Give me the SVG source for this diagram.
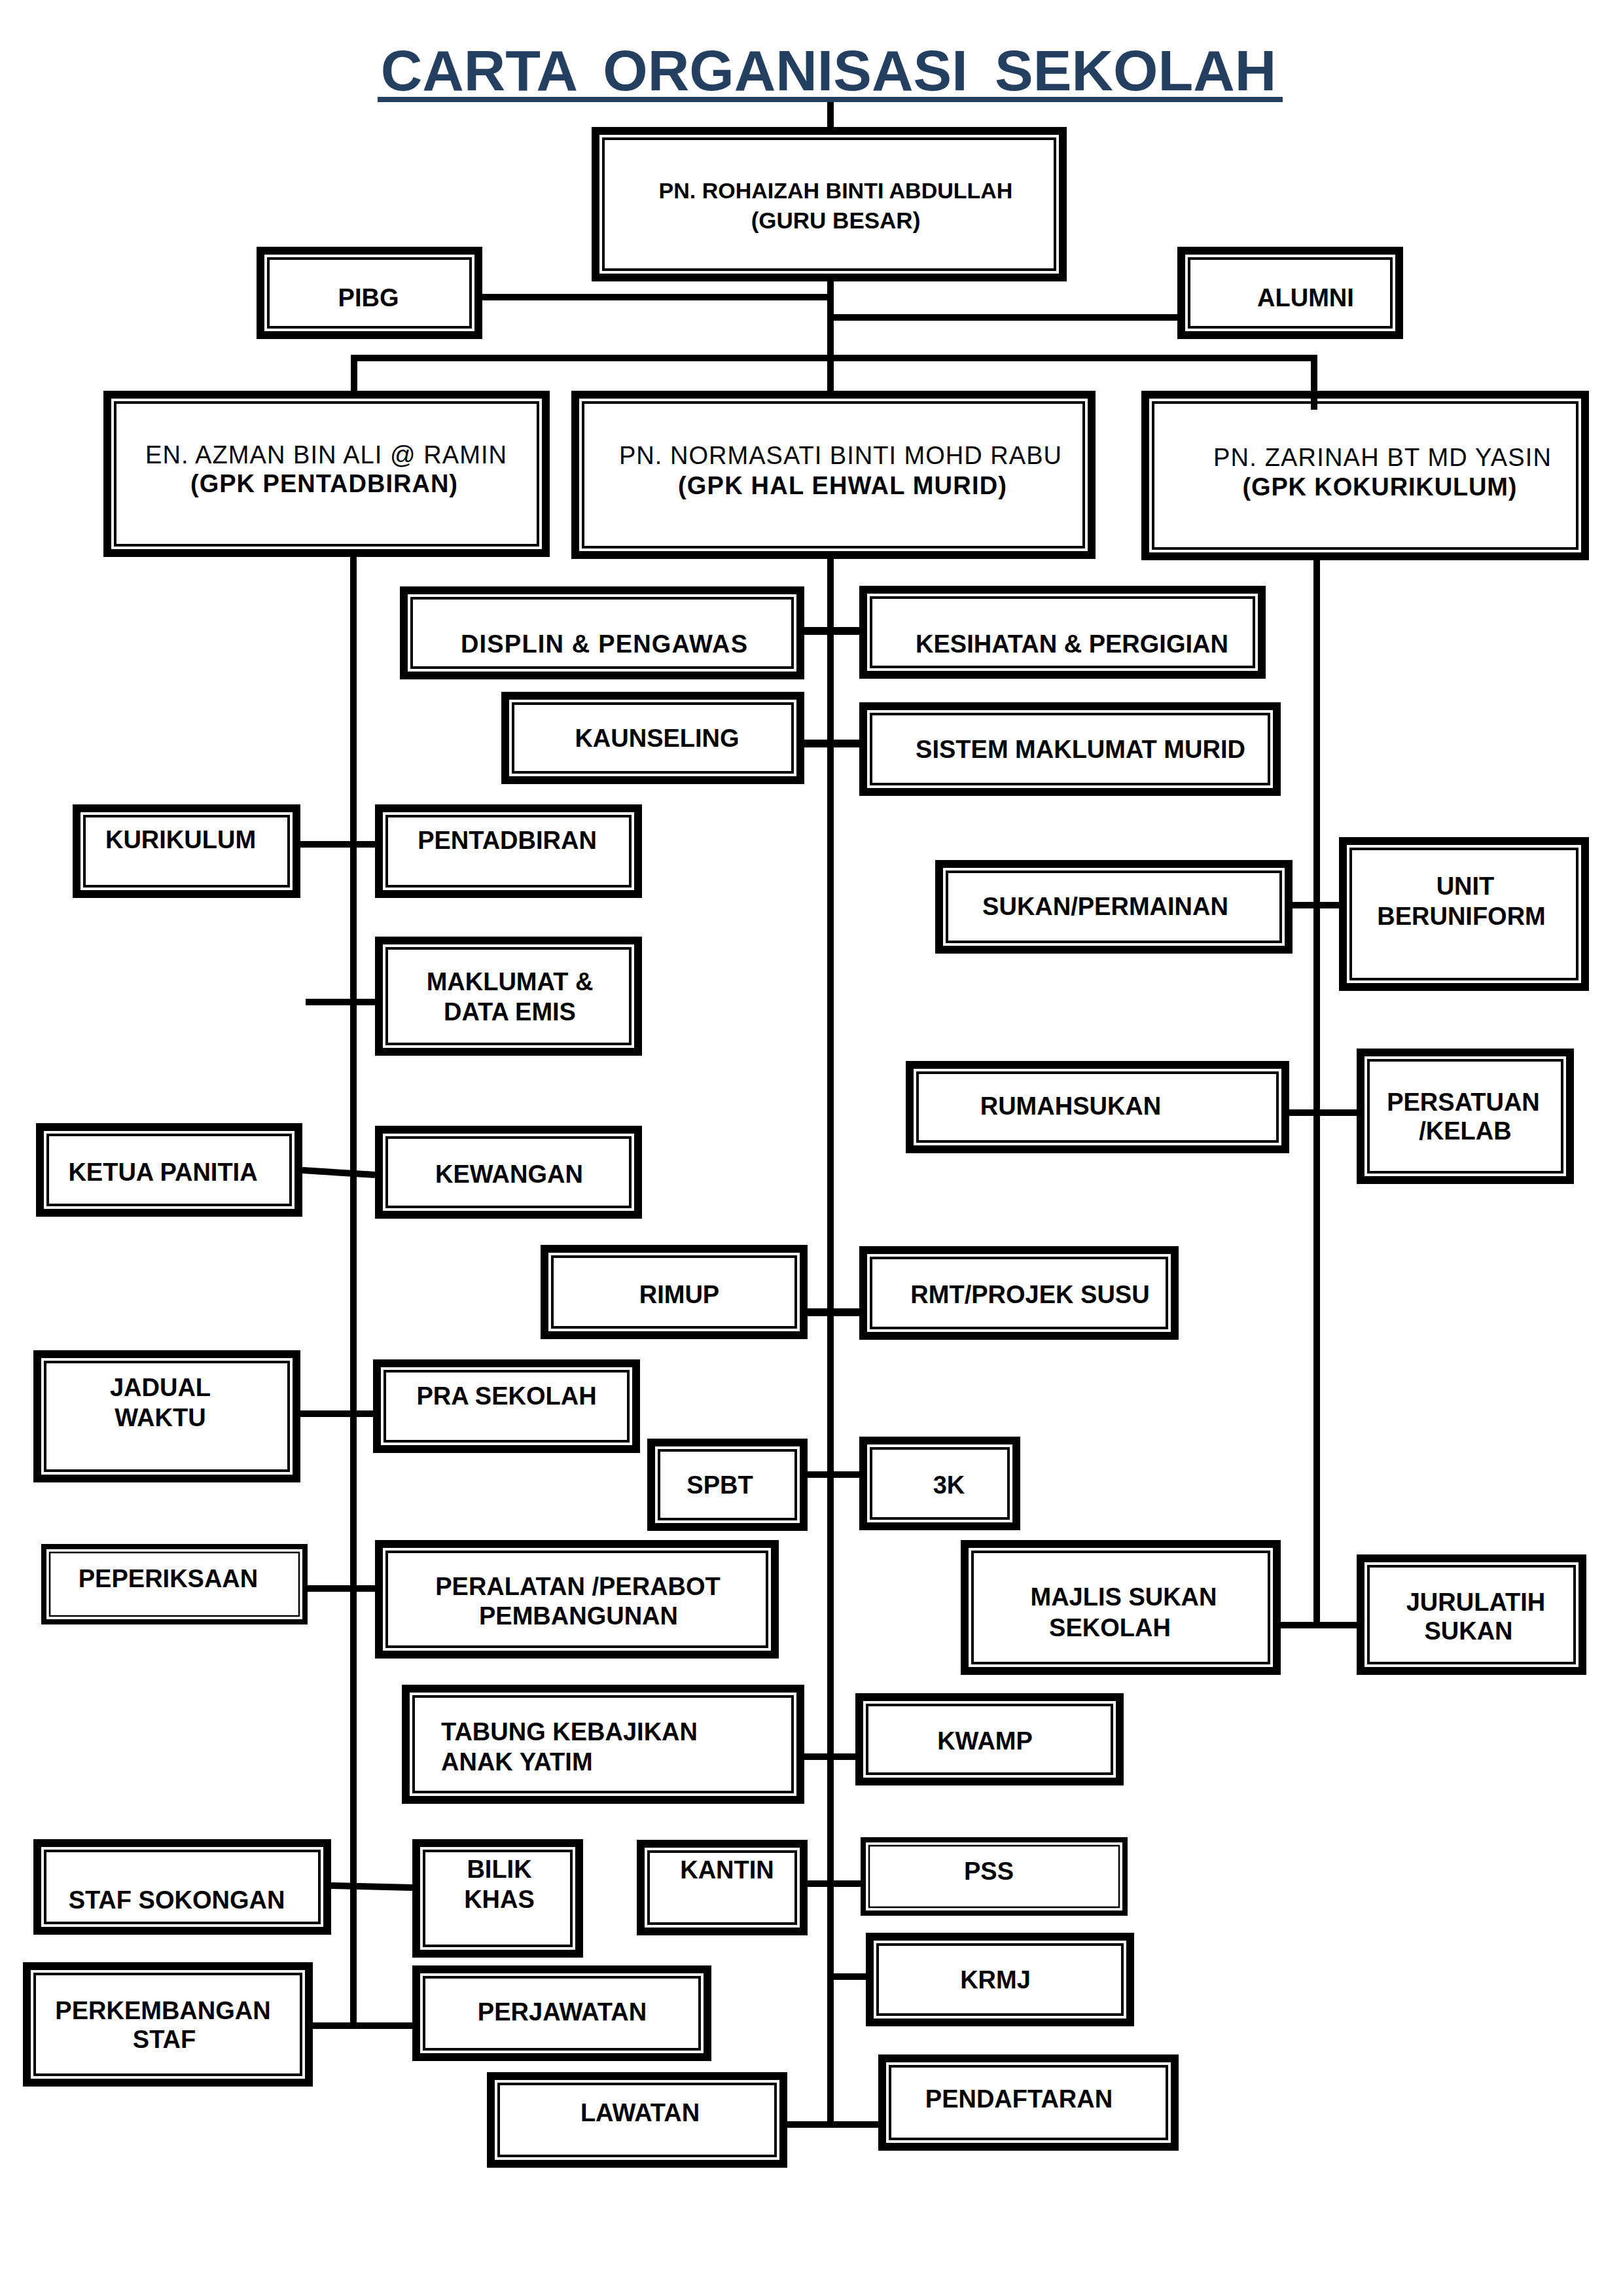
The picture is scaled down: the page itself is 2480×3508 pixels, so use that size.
<svg xmlns="http://www.w3.org/2000/svg" width="2480" height="3508" viewBox="0 0 2480 3508">
<style>
.ob{fill:#fff;stroke:#000;stroke-width:12}
.ib{fill:none;stroke:#000;stroke-width:4}
.obt{fill:#fff;stroke:#000;stroke-width:8}
.ibt{fill:none;stroke:#000;stroke-width:2.5}
.t{font-family:"Liberation Sans",Arial,sans-serif;font-weight:bold;font-size:38px;text-anchor:middle;fill:#000}
.r{font-weight:normal}
.l{text-anchor:start}
.c{stroke:#000;stroke-width:10;fill:none}
.c2{stroke:#000;stroke-width:12;fill:none}
</style>
<rect width="2480" height="3508" fill="#fff"/>
<g id="title">
<text x="1266" y="138" style="font-family:'Liberation Sans',Arial,sans-serif;font-weight:bold;font-size:88px;word-spacing:17px" fill="#243F60" text-anchor="middle">CARTA ORGANISASI SEKOLAH</text>
<rect x="577" y="148" width="1383" height="8" fill="#243F60"/>
</g>
<g id="nodes">
<g id="guru-besar"><rect class="ob" x="910" y="200" width="714" height="224"/><rect class="ib" x="922" y="212" width="690" height="200"/><text class="t" style="font-size:34px" x="1277" y="303">PN. ROHAIZAH BINTI ABDULLAH</text><text class="t" style="font-size:35px" x="1277" y="349">(GURU BESAR)</text></g>
<g id="pibg"><rect class="ob" x="398" y="383" width="333" height="129"/><rect class="ib" x="410" y="395" width="309" height="105"/><text class="t" x="563" y="468">PIBG</text></g>
<g id="alumni"><rect class="ob" x="1805" y="383" width="333" height="129"/><rect class="ib" x="1817" y="395" width="309" height="105"/><text class="t" x="1995" y="468">ALUMNI</text></g>
<g id="gpk-pentadbiran"><rect class="ob" x="164" y="603" width="670" height="242"/><rect class="ib" x="176" y="615" width="646" height="218"/><text class="t r" x="498" y="708" textLength="552" lengthAdjust="spacing">EN. AZMAN BIN ALI @ RAMIN</text><text class="t" x="495" y="752" textLength="408" lengthAdjust="spacing">(GPK PENTADBIRAN)</text></g>
<g id="gpk-hem"><rect class="ob" x="879" y="603" width="789" height="245"/><rect class="ib" x="891" y="615" width="765" height="221"/><text class="t r" x="1284" y="709" textLength="676" lengthAdjust="spacing">PN. NORMASATI BINTI MOHD RABU</text><text class="t" x="1287" y="755" textLength="502" lengthAdjust="spacing">(GPK HAL EHWAL MURID)</text></g>
<g id="gpk-koku"><rect class="ob" x="1750" y="603" width="672" height="247"/><rect class="ib" x="1762" y="615" width="648" height="223"/><text class="t r" x="2112" y="712" textLength="516" lengthAdjust="spacing">PN. ZARINAH BT MD YASIN</text><text class="t" x="2108" y="757" textLength="419" lengthAdjust="spacing">(GPK KOKURIKULUM)</text></g>
<g id="displin"><rect class="ob" x="617" y="902" width="606" height="130"/><rect class="ib" x="629" y="914" width="582" height="106"/><text class="t" x="923" y="997" textLength="438" lengthAdjust="spacing">DISPLIN &amp; PENGAWAS</text></g>
<g id="kesihatan"><rect class="ob" x="1319" y="901" width="609" height="130"/><rect class="ib" x="1331" y="913" width="585" height="106"/><text class="t" x="1638" y="997">KESIHATAN &amp; PERGIGIAN</text></g>
<g id="kaunseling"><rect class="ob" x="772" y="1063" width="451" height="129"/><rect class="ib" x="784" y="1075" width="427" height="105"/><text class="t" x="1004" y="1141">KAUNSELING</text></g>
<g id="sistem"><rect class="ob" x="1319" y="1079" width="632" height="131"/><rect class="ib" x="1331" y="1091" width="608" height="107"/><text class="t" x="1651" y="1158">SISTEM MAKLUMAT MURID</text></g>
<g id="kurikulum"><rect class="ob" x="117" y="1235" width="336" height="131"/><rect class="ib" x="129" y="1247" width="312" height="107"/><text class="t" x="276" y="1296">KURIKULUM</text></g>
<g id="pentadbiran"><rect class="ob" x="579" y="1235" width="396" height="131"/><rect class="ib" x="591" y="1247" width="372" height="107"/><text class="t" x="775" y="1297">PENTADBIRAN</text></g>
<g id="maklumat"><rect class="ob" x="579" y="1437" width="396" height="170"/><rect class="ib" x="591" y="1449" width="372" height="146"/><text class="t" x="779" y="1513">MAKLUMAT &amp;</text><text class="t" x="779" y="1559">DATA EMIS</text></g>
<g id="sukan-permainan"><rect class="ob" x="1435" y="1320" width="534" height="131"/><rect class="ib" x="1447" y="1332" width="510" height="107"/><text class="t" x="1689" y="1398">SUKAN/PERMAINAN</text></g>
<g id="unit-beruniform"><rect class="ob" x="2052" y="1285" width="370" height="223"/><rect class="ib" x="2064" y="1297" width="346" height="199"/><text class="t" x="2239" y="1367">UNIT</text><text class="t" x="2233" y="1413">BERUNIFORM</text></g>
<g id="rumahsukan"><rect class="ob" x="1390" y="1627" width="574" height="129"/><rect class="ib" x="1402" y="1639" width="550" height="105"/><text class="t" x="1636" y="1703">RUMAHSUKAN</text></g>
<g id="persatuan"><rect class="ob" x="2079" y="1608" width="320" height="195"/><rect class="ib" x="2091" y="1620" width="296" height="171"/><text class="t" x="2236" y="1697">PERSATUAN</text><text class="t" x="2239" y="1741">/KELAB</text></g>
<g id="ketua-panitia"><rect class="ob" x="61" y="1722" width="395" height="131"/><rect class="ib" x="73" y="1734" width="371" height="107"/><text class="t" x="249" y="1804">KETUA PANITIA</text></g>
<g id="kewangan"><rect class="ob" x="579" y="1726" width="396" height="130"/><rect class="ib" x="591" y="1738" width="372" height="106"/><text class="t" x="778" y="1807">KEWANGAN</text></g>
<g id="rimup"><rect class="ob" x="832" y="1908" width="396" height="132"/><rect class="ib" x="844" y="1920" width="372" height="108"/><text class="t" x="1038" y="1991">RIMUP</text></g>
<g id="rmt"><rect class="ob" x="1319" y="1910" width="476" height="131"/><rect class="ib" x="1331" y="1922" width="452" height="107"/><text class="t" x="1574" y="1991">RMT/PROJEK SUSU</text></g>
<g id="jadual-waktu"><rect class="ob" x="57" y="2069" width="396" height="190"/><rect class="ib" x="69" y="2081" width="372" height="166"/><text class="t" x="245" y="2133">JADUAL</text><text class="t" x="245" y="2179">WAKTU</text></g>
<g id="pra-sekolah"><rect class="ob" x="576" y="2083" width="396" height="131"/><rect class="ib" x="588" y="2095" width="372" height="107"/><text class="t" x="774" y="2146">PRA SEKOLAH</text></g>
<g id="spbt"><rect class="ob" x="995" y="2204" width="233" height="129"/><rect class="ib" x="1007" y="2216" width="209" height="105"/><text class="t" x="1100" y="2282">SPBT</text></g>
<g id="k3"><rect class="ob" x="1319" y="2201" width="234" height="131"/><rect class="ib" x="1331" y="2213" width="210" height="107"/><text class="t" x="1450" y="2282">3K</text></g>
<g id="peperiksaan"><rect class="obt" x="67" y="2363" width="399" height="115"/><rect class="ibt" x="76" y="2372" width="381" height="97"/><text class="t" x="257" y="2425">PEPERIKSAAN</text></g>
<g id="peralatan"><rect class="ob" x="579" y="2359" width="605" height="169"/><rect class="ib" x="591" y="2371" width="581" height="145"/><text class="t" x="883" y="2437">PERALATAN /PERABOT</text><text class="t" x="884" y="2482">PEMBANGUNAN</text></g>
<g id="majlis-sukan"><rect class="ob" x="1474" y="2359" width="477" height="194"/><rect class="ib" x="1486" y="2371" width="453" height="170"/><text class="t" x="1717" y="2453">MAJLIS SUKAN</text><text class="t" x="1696" y="2500">SEKOLAH</text></g>
<g id="jurulatih"><rect class="ob" x="2079" y="2381" width="339" height="172"/><rect class="ib" x="2091" y="2393" width="315" height="148"/><text class="t" x="2255" y="2461">JURULATIH</text><text class="t" x="2244" y="2505">SUKAN</text></g>
<g id="tabung"><rect class="ob" x="620" y="2580" width="603" height="170"/><rect class="ib" x="632" y="2592" width="579" height="146"/><text class="t l" x="674" y="2659">TABUNG KEBAJIKAN</text><text class="t l" x="674" y="2705">ANAK YATIM</text></g>
<g id="kwamp"><rect class="ob" x="1313" y="2593" width="398" height="129"/><rect class="ib" x="1325" y="2605" width="374" height="105"/><text class="t" x="1505" y="2673">KWAMP</text></g>
<g id="staf-sokongan"><rect class="ob" x="57" y="2816" width="443" height="134"/><rect class="ib" x="69" y="2828" width="419" height="110"/><text class="t" x="270" y="2916">STAF SOKONGAN</text></g>
<g id="bilik-khas"><rect class="ob" x="636" y="2816" width="249" height="169"/><rect class="ib" x="648" y="2828" width="225" height="145"/><text class="t" x="763" y="2869">BILIK</text><text class="t" x="763" y="2915">KHAS</text></g>
<g id="kantin"><rect class="ob" x="979" y="2817" width="249" height="134"/><rect class="ib" x="991" y="2829" width="225" height="110"/><text class="t" x="1111" y="2870">KANTIN</text></g>
<g id="pss"><rect class="obt" x="1319" y="2811" width="400" height="112"/><rect class="ibt" x="1328" y="2820" width="382" height="94"/><text class="t" x="1511" y="2872">PSS</text></g>
<g id="krmj"><rect class="ob" x="1329" y="2959" width="398" height="131"/><rect class="ib" x="1341" y="2971" width="374" height="107"/><text class="t" x="1521" y="3038">KRMJ</text></g>
<g id="perkembangan-staf"><rect class="ob" x="41" y="3004" width="431" height="178"/><rect class="ib" x="53" y="3016" width="407" height="154"/><text class="t" x="249" y="3085">PERKEMBANGAN</text><text class="t" x="251" y="3129">STAF</text></g>
<g id="perjawatan"><rect class="ob" x="636" y="3009" width="445" height="134"/><rect class="ib" x="648" y="3021" width="421" height="110"/><text class="t" x="859" y="3087">PERJAWATAN</text></g>
<g id="lawatan"><rect class="ob" x="750" y="3172" width="447" height="134"/><rect class="ib" x="762" y="3184" width="423" height="110"/><text class="t" x="978" y="3241">LAWATAN</text></g>
<g id="pendaftaran"><rect class="ob" x="1348" y="3145" width="447" height="135"/><rect class="ib" x="1360" y="3157" width="423" height="111"/><text class="t" x="1557" y="3220">PENDAFTARAN</text></g>
</g>
<g id="connectors">
<path class="c" d="M1269 156V194 M1269 430V597 M737 454H1269 M1269 485H1799 M536 547H2013 M541 547V597 M2008 547V626"/>
<path class="c" d="M540 851V3100 M1269 854V3251 M2012 856V2488"/>
<path class="c2" d="M1229 964H1313 M1229 1136H1313 M1234 2005H1313"/>
<path class="c" d="M459 1290H573 M467 1531H573 M1975 1383H2046 M1970 1700H2073 M462 1788L573 1795 M459 2160H570 M1234 2253H1313 M470 2427H573 M1957 2483H2073 M1229 2684H1307 M506 2881L630 2884 M1234 2878H1315 M1269 3020H1323 M478 3095H630 M1203 3246H1342"/>
</g>
</svg>
